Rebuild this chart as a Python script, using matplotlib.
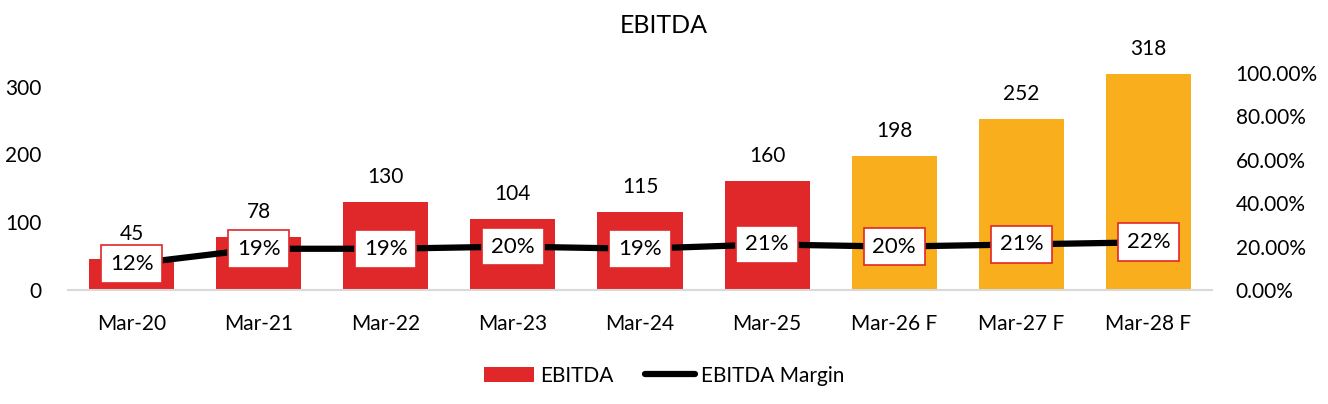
import matplotlib.pyplot as plt
from matplotlib.ticker import PercentFormatter

plt.rcParams['font.family'] = ['Lato', 'DejaVu Sans']

# data
years = ['Mar-20', 'Mar-21', 'Mar-22', 'Mar-23', 'Mar-24', 'Mar-25', 'Mar-26 F', 'Mar-27 F', 'Mar-28 F']
ebitda = [45, 78, 130, 104, 115, 160, 198, 252, 318]
margin = [0.12, 0.19, 0.19, 0.20, 0.19, 0.21, 0.20, 0.21, 0.22]
margin_labels = ['12%', '19%', '19%', '20%', '19%', '21%', '20%', '21%', '22%']
forecast = [False] * 6 + [True] * 3

red = '#E0282A'
orange = '#F9AE1E'
colors = [orange if f else red for f in forecast]

fig = plt.figure(figsize=(13.28, 4.04), dpi=100)
ax = fig.add_axes([0.0512, 0.2822, 0.8615, 0.5371])
x = list(range(len(years)))

bars = ax.bar(x, ebitda, width=0.67, color=colors, label='EBITDA', zorder=2)
ax.set_ylim(0, 320)
ax.set_xlim(-0.5, len(years) - 0.5)
ax.set_yticks([0, 100, 200, 300])
ax.set_xticks(x)
ax.set_xticklabels(years)
for v, xi in zip(ebitda, x):
    ax.annotate(str(v), (xi, v), xytext=(0, 25), textcoords='offset pixels',
                ha='center', va='center', fontsize=15)

for s in ['top', 'right', 'left']:
    ax.spines[s].set_visible(False)
ax.spines['bottom'].set_color('#D9D9D9')
ax.spines['bottom'].set_linewidth(1.5)
ax.tick_params(axis='both', length=0, labelsize=15)
ax.tick_params(axis='y', pad=19)
ax.tick_params(axis='x', pad=17)

ax2 = ax.twinx()
ax2.set_ylim(0, 1)
ax2.set_yticks([0, 0.2, 0.4, 0.6, 0.8, 1.0])
ax2.yaxis.set_major_formatter(PercentFormatter(1.0, decimals=2))
ax2.tick_params(axis='y', length=0, labelsize=15, pad=17)
for s in ['top', 'right', 'left', 'bottom']:
    ax2.spines[s].set_visible(False)
line, = ax2.plot(x, margin, color='black', linewidth=4.5, solid_capstyle='round',
                 label='EBITDA Margin', zorder=3)
for xi, m, lab in zip(x, margin, margin_labels):
    ax2.text(xi, m, lab, ha='center', va='center', fontsize=16, zorder=4,
             bbox=dict(boxstyle='square,pad=0.4', facecolor='white', edgecolor=red, linewidth=1.2))

fig.suptitle('EBITDA', y=0.965, fontsize=18)
fig.legend(handles=[bars, line], loc='center', bbox_to_anchor=(0.5, 0.07), ncol=2,
           frameon=False, fontsize=15, handlelength=2.4, handletextpad=0.3, columnspacing=1.5)

plt.savefig('out.png', dpi=100)
